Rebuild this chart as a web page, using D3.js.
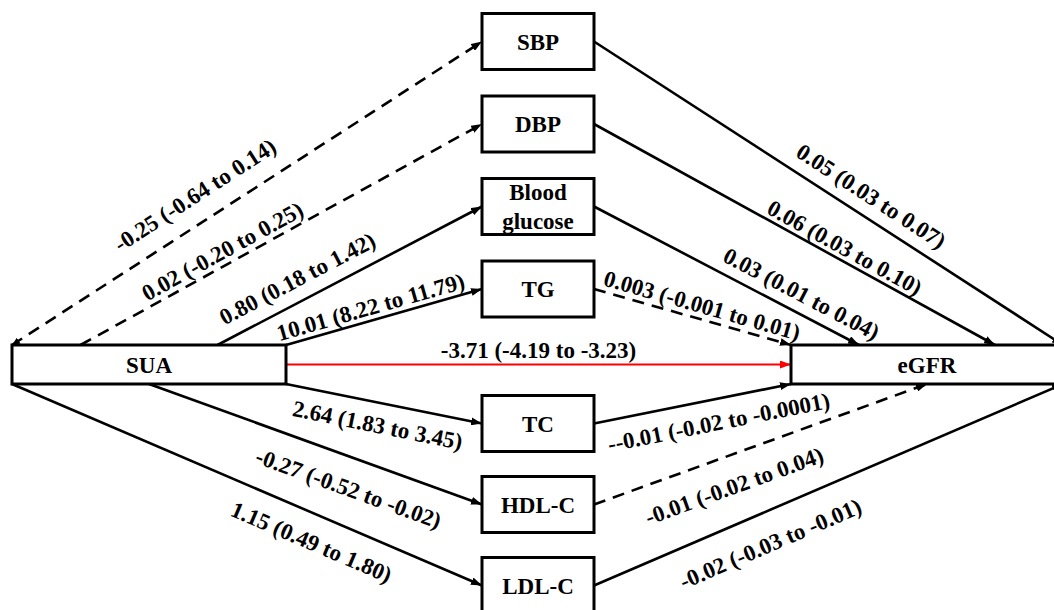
<!DOCTYPE html>
<html>
<head>
<meta charset="utf-8">
<script src="https://cdn.jsdelivr.net/npm/d3@7"></script>
<style>
  html, body { margin: 0; padding: 0; background: #fff; }
  svg { display: block; }
  text { font-family: "Liberation Serif", "Times New Roman", "DejaVu Serif", serif; font-weight: bold; fill: #000; }
</style>
</head>
<body>
<svg id="chart" width="1054" height="610"></svg>
<script>
// ---------------- DATA ----------------
const exposure = "SUA";
const outcome = "eGFR";
const mediators = ["SBP", "DBP", "Blood glucose", "TG", "TC", "HDL-C", "LDL-C"];
// exposure -> mediator effects, beta (95% CI)
const aPathLabels = [
  "-0.25 (-0.64 to 0.14)",
  "0.02 (-0.20 to 0.25)",
  "0.80 (0.18 to 1.42)",
  "10.01 (8.22 to 11.79)",
  "2.64 (1.83 to 3.45)",
  "-0.27 (-0.52 to -0.02)",
  "1.15 (0.49 to 1.80)"
];
const aPathSignificant = [false, false, true, true, true, true, true];
// mediator -> outcome effects, beta (95% CI)
const bPathLabels = [
  "0.05 (0.03 to 0.07)",
  "0.06 (0.03 to 0.10)",
  "0.03 (0.01 to 0.04)",
  "0.003 (-0.001 to 0.01)",
  "--0.01 (-0.02 to -0.0001)",
  "-0.01 (-0.02 to 0.04)",
  "-0.02 (-0.03 to -0.01)"
];
const bPathSignificant = [true, true, true, false, true, false, true];
const directEffectLabel = "-3.71 (-4.19 to -3.23)";

// ---------------- LAYOUT ----------------
const W = 1054, H = 610;
const svg = d3.select("#chart");
svg.append("rect").attr("width", W).attr("height", H).attr("fill", "#fff");

const FONT = 23;
const LINE_W = 2.6;
const BOX_W = 3;

// horizontal scale over "columns" 0 (exposure left) .. 1 (outcome right)
const exposureBox = { x0: 12, x1: 286, y0: 345, y1: 384 };
const outcomeBox = { x0: 791, x1: 1063, y0: 345, y1: 384 };
const medX = d3.scaleLinear().domain([0, 1]).range([482, 594]);
const medH = 56;
const upperY = d3.scaleLinear().domain([0, 3]).range([41.5, 289]);
const lowerY = d3.scaleLinear().domain([4, 6]).range([423.5, 585.5]);
const rowY = i => (i <= 3 ? upperY(i) : lowerY(i));

// where the edges attach along the exposure / outcome box (fraction of width), top or bottom
const exposureAttach = [0, 0.25, 0.75, 1, 1, 0.5, 0];
const outcomeAttach = [1, 0.75, 0.25, 0, 0, 0.5, 1];
// label placement: fraction along edge, perpendicular offset (positive = above)
const aLabelPos = [[0.42, 27], [0.37, 14], [0.34, 22], [0.45, 13.5], [0.49, -22], [0.63, -30], [0.66, -27]];
const bLabelPos = [[0.567, 21], [0.61, 13], [0.75, 19], [0.53, 14], [0.61, -23], [0.39, -30], [0.35, -31]];

// ---------------- MARKERS ----------------
const defs = svg.append("defs");
function marker(id, color, len, wid) {
  defs.append("marker")
    .attr("id", id)
    .attr("markerUnits", "userSpaceOnUse")
    .attr("viewBox", `0 0 ${len} ${wid}`)
    .attr("refX", len).attr("refY", wid / 2)
    .attr("markerWidth", len).attr("markerHeight", wid)
    .attr("orient", "auto-start-reverse")
    .append("path")
    .attr("d", `M0,0 L${len},${wid / 2} L0,${wid} Z`)
    .attr("fill", color);
}
marker("arrow", "#000", 11, 8);
marker("arrowRed", "#f00", 11, 8);
marker("arrowSmall", "#000", 8, 7);

// ---------------- EDGES ----------------
const edges = [];
mediators.forEach((m, i) => {
  const yc = rowY(i);
  const upper = i <= 3;
  const ex = d3.interpolateNumber(exposureBox.x0, exposureBox.x1)(exposureAttach[i]);
  const ey = upper ? exposureBox.y0 : exposureBox.y1;
  const ox = d3.interpolateNumber(outcomeBox.x0, outcomeBox.x1)(outcomeAttach[i]);
  const oy = upper ? outcomeBox.y0 : outcomeBox.y1;
  edges.push({ p0: [ex, ey], p1: [medX(0), yc], label: aPathLabels[i], sig: aPathSignificant[i], pos: aLabelPos[i], start: i === 0 });
  edges.push({ p0: [medX(1), yc], p1: [ox, oy], label: bPathLabels[i], sig: bPathSignificant[i], pos: bLabelPos[i], start: false });
});

const line = d3.line();
const gEdges = svg.append("g");
edges.forEach(e => {
  const p = gEdges.append("path")
    .attr("d", line([e.p0, e.p1]))
    .attr("fill", "none")
    .attr("stroke", "#000")
    .attr("stroke-width", LINE_W)
    .attr("marker-end", "url(#arrow)");
  if (!e.sig) p.attr("stroke-dasharray", "12,8");
  if (e.start) p.attr("marker-start", "url(#arrowSmall)");
});

// direct effect (red)
const directY = (exposureBox.y0 + exposureBox.y1) / 2;
gEdges.append("path")
  .attr("d", line([[exposureBox.x1, directY], [outcomeBox.x0, directY]]))
  .attr("stroke", "#f00")
  .attr("stroke-width", 2.2)
  .attr("marker-end", "url(#arrowRed)");

// ---------------- BOXES ----------------
const gBoxes = svg.append("g");
function box(x0, y0, w, h, name) {
  gBoxes.append("rect")
    .attr("x", x0).attr("y", y0).attr("width", w).attr("height", h)
    .attr("fill", "#fff").attr("stroke", "#000").attr("stroke-width", BOX_W);
  const words = name.split(" ");
  const lh = 29;
  const t = gBoxes.append("text")
    .attr("text-anchor", "middle")
    .attr("font-size", FONT);
  words.forEach((w2, k) => {
    t.append("tspan")
      .attr("x", x0 + w / 2)
      .attr("y", y0 + h / 2 + (k - (words.length - 1) / 2) * lh)
      .attr("dy", "0.35em")
      .text(w2);
  });
}
box(exposureBox.x0, exposureBox.y0, exposureBox.x1 - exposureBox.x0, exposureBox.y1 - exposureBox.y0, exposure);
box(outcomeBox.x0, outcomeBox.y0, outcomeBox.x1 - outcomeBox.x0, outcomeBox.y1 - outcomeBox.y0, outcome);
mediators.forEach((m, i) => {
  box(medX(0), rowY(i) - medH / 2, medX(1) - medX(0), medH, m);
});

// ---------------- LABELS ----------------
const gLabels = svg.append("g");
edges.forEach(e => {
  const [x0, y0] = e.p0, [x1, y1] = e.p1;
  const dx = x1 - x0, dy = y1 - y0, len = Math.hypot(dx, dy);
  const ux = dx / len, uy = dy / len;
  const nx = uy, ny = -ux;
  const [t, d] = e.pos;
  const cx = x0 + ux * len * t + nx * d;
  const cy = y0 + uy * len * t + ny * d;
  const ang = Math.atan2(dy, dx) * 180 / Math.PI;
  gLabels.append("text")
    .attr("transform", `translate(${cx},${cy}) rotate(${ang})`)
    .attr("text-anchor", "middle")
    .attr("dy", "0.35em")
    .attr("font-size", FONT)
    .text(e.label);
});
gLabels.append("text")
  .attr("x", (exposureBox.x1 + outcomeBox.x0) / 2)
  .attr("y", directY - 15)
  .attr("dy", "0.35em")
  .attr("text-anchor", "middle")
  .attr("font-size", FONT)
  .text(directEffectLabel);
</script>
</body>
</html>
